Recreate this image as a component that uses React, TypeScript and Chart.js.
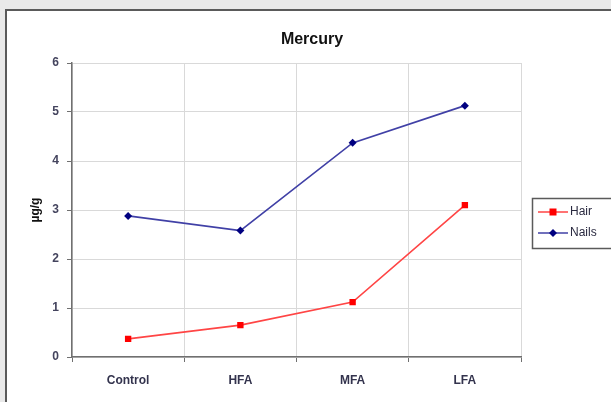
import React, { useEffect, useRef } from "react";
import { Chart, registerables } from "chart.js";

Chart.register(...registerables);

const categories = ["Control", "HFA", "MFA", "LFA"];
const hairValues = [0.37, 0.65, 1.12, 3.1];
const nailsValues = [2.88, 2.58, 4.37, 5.13];
const yTicks = [0, 1, 2, 3, 4, 5, 6];
const titleText = "Mercury";
const yTitle = "µg/g";
const FONT = "'Liberation Sans', Arial, sans-serif";

const decorPlugin = {
  id: "decor",
  afterDraw(chart: any) {
    const ctx = chart.ctx;
    const area = chart.chartArea;
    ctx.save();
    // title
    ctx.fillStyle = "#111111";
    ctx.font = `bold 16px ${FONT}`;
    ctx.textAlign = "center";
    ctx.textBaseline = "middle";
    ctx.fillText(titleText, 312, 40);
    // y title
    ctx.save();
    ctx.translate(36, (area.top + area.bottom) / 2);
    ctx.rotate(-Math.PI / 2);
    ctx.font = `bold 12px ${FONT}`;
    ctx.fillStyle = "#111111";
    ctx.fillText(yTitle, 0, 0);
    ctx.restore();
    // legend
    const bx = 532, by = 198, bw = 80, bh = 50;
    ctx.fillStyle = "#ffffff";
    ctx.fillRect(bx, by, bw, bh);
    ctx.strokeStyle = "#5a5a5a";
    ctx.lineWidth = 1.5;
    ctx.strokeRect(bx + 0.5, by + 0.5, bw, bh);
    const ds = chart.data.datasets;
    const rows = [212, 233];
    ds.forEach((d: any, i: number) => {
      const y = rows[i];
      ctx.strokeStyle = d.borderColor;
      ctx.lineWidth = 1.5;
      ctx.beginPath();
      ctx.moveTo(538, y);
      ctx.lineTo(568, y);
      ctx.stroke();
      ctx.fillStyle = d.pointBackgroundColor;
      if (d.pointStyle === "rect") {
        ctx.fillRect(553 - 3.5, y - 3.5, 7, 7);
      } else {
        ctx.beginPath();
        ctx.moveTo(553, y - 4);
        ctx.lineTo(557, y);
        ctx.lineTo(553, y + 4);
        ctx.lineTo(549, y);
        ctx.closePath();
        ctx.fill();
      }
      ctx.fillStyle = "#2a2a40";
      ctx.font = `12px ${FONT}`;
      ctx.textAlign = "left";
      ctx.textBaseline = "middle";
      ctx.fillText(d.label, 570, y);
    });
    ctx.restore();
  },
};

export default function App() {
  const ref = useRef<HTMLCanvasElement>(null);
  useEffect(() => {
    if (!ref.current) return;
    const chart = new Chart(ref.current, {
      type: "line",
      data: {
        labels: categories,
        datasets: [
          {
            label: "Hair",
            data: hairValues,
            borderColor: "#ff4545",
            backgroundColor: "#ff0000",
            pointBackgroundColor: "#ff0000",
            pointBorderColor: "#ff0000",
            pointStyle: "rect",
            pointRadius: 4.5,
            pointBorderWidth: 0,
            borderWidth: 1.6,
            tension: 0,
          },
          {
            label: "Nails",
            data: nailsValues,
            borderColor: "#4040a6",
            backgroundColor: "#000080",
            pointBackgroundColor: "#000080",
            pointBorderColor: "#000080",
            pointStyle: "rectRot",
            pointRadius: 4,
            pointBorderWidth: 0,
            borderWidth: 1.6,
            tension: 0,
          },
        ] as any,
      },
      plugins: [decorPlugin],
      options: {
        animation: false,
        responsive: false,
        events: [],
        layout: { padding: { left: 32, top: 63, right: 90, bottom: 0 } },
        plugins: {
          legend: { display: false },
          title: { display: false },
          tooltip: { enabled: false },
        },
        scales: {
          x: {
            type: "category",
            offset: true,
            grid: {
              offset: true,
              color: "#d9d9d9",
              tickColor: "#707070",
              tickLength: 5,
              lineWidth: 1,
            },
            border: { color: "#707070", width: 1.5 },
            ticks: {
              color: "#33334d",
              font: { family: FONT, size: 12, weight: "bold" },
              padding: 11,
              maxRotation: 0,
            },
            afterFit: (s: any) => {
              s.height = 45;
            },
          },
          y: {
            min: 0,
            max: 6,
            afterBuildTicks: (s: any) => {
              s.ticks = yTicks.map((v) => ({ value: v }));
            },
            grid: {
              color: "#d9d9d9",
              tickColor: "#707070",
              tickLength: 5,
              lineWidth: 1,
            },
            border: { color: "#707070", width: 1.5 },
            ticks: {
              color: "#44445e",
              font: { family: FONT, size: 12, weight: "bold" },
              padding: 8,
            },
            afterFit: (s: any) => {
              s.width = 40;
            },
          },
        },
      } as any,
    });
    return () => chart.destroy();
  }, []);

  return (
    <div
      style={{
        position: "fixed",
        left: 0,
        top: 0,
        width: 611,
        height: 402,
        background: "#e9e9e9",
        overflow: "hidden",
      }}
    >
      <div
        style={{
          position: "absolute",
          left: 5,
          top: 9,
          width: 640,
          height: 420,
          background: "#ffffff",
          borderLeft: "2px solid #5a5a5a",
          borderTop: "2px solid #5a5a5a",
        }}
      />
      <canvas
        ref={ref}
        width={611}
        height={402}
        style={{ position: "absolute", left: 0, top: 0, width: 611, height: 402 }}
      />
    </div>
  );
}
